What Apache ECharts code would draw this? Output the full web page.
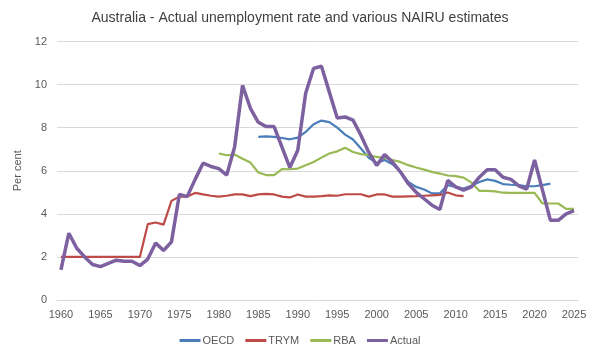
<!DOCTYPE html>
<html><head><meta charset="utf-8">
<script src="https://cdn.jsdelivr.net/npm/echarts@6/dist/echarts.min.js"></script>
<style>html,body{margin:0;padding:0;background:#fff}#c{width:600px;height:360px}</style>
</head><body><div id="c"></div>
<script>
const years = [];
for (let y = 1960; y <= 2025; y++) years.push(String(y));
const actual = [1.4,3.1,2.4,2.0,1.65,1.55,1.7,1.85,1.8,1.8,
  1.6,1.9,2.65,2.3,2.7,4.9,4.8,5.6,6.35,6.2,
  6.1,5.8,7.1,9.96,8.9,8.25,8.05,8.05,7.1,6.15,
  6.95,9.6,10.75,10.85,9.65,8.45,8.5,8.35,7.65,6.85,
  6.25,6.75,6.4,5.95,5.4,5.0,4.7,4.4,4.2,5.55,
  5.25,5.1,5.25,5.7,6.05,6.05,5.7,5.6,5.3,5.15,
  6.5,5.1,3.7,3.7,4.0,4.15];
const oecd = [null,null,null,null,null,null,null,null,null,null,
  null,null,null,null,null,null,null,null,null,null,
  null,null,null,null,null,7.57,7.6,7.57,7.52,7.46,
  7.54,7.8,8.16,8.33,8.26,8.0,7.68,7.45,7.03,6.6,
  6.35,6.5,6.3,5.95,5.48,5.25,5.13,4.95,4.95,5.33,
  5.25,5.17,5.3,5.48,5.6,5.53,5.38,5.35,5.33,5.28,
  5.28,5.33,5.4,null,null,null];
const rba = [null,null,null,null,null,null,null,null,null,null,
  null,null,null,null,null,null,null,null,null,null,
  6.8,6.72,6.75,6.56,6.38,5.92,5.8,5.8,6.08,6.07,
  6.1,6.26,6.41,6.61,6.8,6.9,7.07,6.87,6.77,6.72,
  6.64,6.6,6.5,6.41,6.26,6.15,6.05,5.95,5.87,5.78,
  5.75,5.68,5.45,5.07,5.07,5.04,4.98,4.97,4.97,4.97,
  4.97,4.48,4.48,4.48,4.23,4.23];
const trym = [2.0,2.0,2.0,2.0,2.0,2.0,2.0,2.0,2.0,2.0,
  2.0,3.52,3.6,3.5,4.6,4.8,4.8,4.97,4.9,4.84,
  4.8,4.84,4.9,4.9,4.82,4.9,4.93,4.9,4.8,4.76,
  4.9,4.8,4.8,4.82,4.86,4.84,4.91,4.91,4.91,4.8,
  4.9,4.9,4.8,4.8,4.81,4.82,4.84,4.86,4.88,4.99,
  4.86,4.82,null,null,null,null,null,null,null,null,
  null,null,null,null,null,null];

const font = "'Liberation Sans', Arial, sans-serif";
const chart = echarts.init(document.getElementById('c'), null, {renderer:'canvas'});
function line(name, data, color, width) {
  return {name, type:'line', data, symbol:'none', connectNulls:false,
    lineStyle:{color, width}, itemStyle:{color}, z: name==='Actual'?5:3};
}
chart.setOption({
  animation:false,
  textStyle:{fontFamily:font},
  title:{text:'Australia - Actual unemployment rate and various NAIRU estimates',
    left:'center', top:6, textStyle:{fontFamily:font, fontSize:14, fontWeight:'normal', color:'#404040'}},
  grid:{left:57, right:22, top:41.5, bottom:60, containLabel:false},
  legend:{bottom:9, left:'center', icon:'rect', itemWidth:21, itemHeight:3, itemGap:11,
    textStyle:{fontFamily:font, fontSize:11, color:'#595959', padding:[0,0,0,-3]},
    data:['OECD','TRYM','RBA','Actual']},
  xAxis:{type:'category', data:years, boundaryGap:true,
    axisLine:{show:true, lineStyle:{color:'#d9d9d9'}}, axisTick:{show:false},
    axisLabel:{interval:4, color:'#595959', fontSize:11, margin:9}},
  yAxis:{type:'value', min:0, max:12, interval:2,
    name:'Per cent', nameLocation:'middle', nameGap:29,
    nameTextStyle:{color:'#595959', fontSize:11, fontFamily:font},
    axisLine:{show:false}, axisTick:{show:false},
    axisLabel:{color:'#595959', fontSize:11, margin:10},
    splitLine:{lineStyle:{color:'#d9d9d9', width:1}}},
  series:[
    line('OECD', oecd, '#4a7ebb', 2.2),
    line('TRYM', trym, '#be4b48', 2.2),
    line('RBA', rba, '#98b954', 2.2),
    line('Actual', actual, '#7d60a0', 3.5)
  ]
});
</script></body></html>
